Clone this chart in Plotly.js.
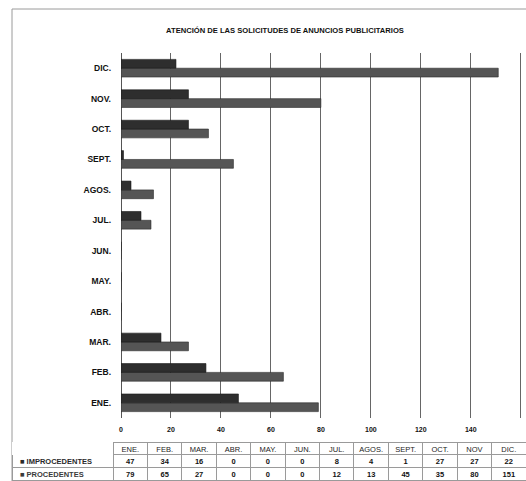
<!DOCTYPE html>
<html>
<head>
<meta charset="utf-8">
<script src="https://cdn.plot.ly/plotly-3.0.1.min.js"></script>
<style>html,body{margin:0;padding:0;background:#fff;}#chart{width:526px;height:481px;}</style>
</head>
<body>
<div id="chart"></div>
<script>
const months = ["ENE.", "FEB.", "MAR.", "ABR.", "MAY.", "JUN.", "JUL.", "AGOS.", "SEPT.", "OCT.", "NOV.", "DIC."];
const tableMonths = ["ENE.", "FEB.", "MAR.", "ABR.", "MAY.", "JUN.", "JUL.", "AGOS.", "SEPT.", "OCT.", "NOV", "DIC."];
const improcedentes = [47, 34, 16, 0, 0, 0, 8, 4, 1, 27, 27, 22];
const procedentes = [79, 65, 27, 0, 0, 0, 12, 13, 45, 35, 80, 151];
const seriesNames = ["IMPROCEDENTES", "PROCEDENTES"];
const xTicks = [0, 20, 40, 60, 80, 100, 120, 140, 160];
const titleText = "ATENCIÓN DE LAS SOLICITUDES DE ANUNCIOS PUBLICITARIOS";

const W = 526, H = 481;
const darkCol = "#2e2e2e", lightCol = "#555555";
const font = "Liberation Sans, Arial, sans-serif";

const traces = [
  {type: "bar", orientation: "h", name: seriesNames[1], y: months, x: procedentes,
   marker: {color: lightCol, line: {color: "#2a2a2a", width: 0.6}}, xaxis: "x", yaxis: "y", hoverinfo: "x"},
  {type: "bar", orientation: "h", name: seriesNames[0], y: months, x: improcedentes,
   marker: {color: darkCol, line: {color: "#1a1a1a", width: 0.6}}, xaxis: "x", yaxis: "y", hoverinfo: "x"}
];

// Data table under the chart: one trace for the grid, one (shifted) for the text
const headerVals = [[""]].concat(tableMonths.map(m => [m]));
const cellVals = [["■\u00a0" + seriesNames[0], "■\u00a0" + seriesNames[1]]]
  .concat(months.map((m, i) => [String(improcedentes[i]), String(procedentes[i])]));
const blankHeader = headerVals.map(() => [""]);
const blankCells = cellVals.map(() => ["", ""]);

const colW = [101].concat(months.map(() => 34.4));
const lineCols = ["#ffffff"].concat(months.map(() => "#9a9a9a"));
const tableTop = 442, textShift = 4;

traces.push({
  type: "table",
  domain: {x: [12 / W, 1], y: [0, (H - tableTop) / H]},
  columnwidth: colW,
  header: {values: blankHeader, height: 12, line: {color: lineCols, width: 1}, fill: {color: "#ffffff"},
           font: {family: font, size: 7.5}},
  cells: {values: blankCells, height: 13, line: {color: "#9a9a9a", width: 1}, fill: {color: "#ffffff"},
          font: {family: font, size: 7.5}}
});
traces.push({
  type: "table",
  domain: {x: [12 / W, 1], y: [0, (H - tableTop + textShift) / H]},
  columnwidth: colW,
  header: {
    values: headerVals, height: 12, align: "center",
    line: {color: "rgba(0,0,0,0)", width: 0}, fill: {color: "rgba(0,0,0,0)"},
    font: {family: font, size: 7.5, color: "#222"}
  },
  cells: {
    values: cellVals, height: 13,
    align: ["left"].concat(months.map(() => "center")),
    line: {color: "rgba(0,0,0,0)", width: 0}, fill: {color: "rgba(0,0,0,0)"},
    font: {family: font, size: 7.5, color: [["#2a2a2a", "#3a3a3a"]].concat(months.map(() => "#111")), weight: "bold"}
  }
});

const layout = {
  width: W, height: H,
  margin: {l: 0, r: 0, t: 0, b: 0},
  paper_bgcolor: "#ffffff", plot_bgcolor: "#ffffff",
  showlegend: false,
  barmode: "group",
  bargap: 0.42,
  bargroupgap: 0,
  font: {family: font, color: "#111"},
  title: {text: "<b>" + titleText + "</b>", font: {family: font, size: 7.6, color: "#111"},
          x: 285 / W, xanchor: "center", y: 1 - 30 / H, yanchor: "middle"},
  xaxis: {
    domain: [121 / W, 522 / W],
    range: [0, 160.5],
    tickvals: xTicks,
    ticktext: xTicks.map(v => "<b>" + v + "</b>"),
    showgrid: true, gridcolor: "#666666", gridwidth: 1,
    zeroline: true, zerolinecolor: "#555", zerolinewidth: 1,
    showline: false,
    ticks: "",
    ticklabelstandoff: 6,
    tickfont: {family: font, size: 7, color: "#111"},
    fixedrange: true
  },
  yaxis: {
    domain: [(H - 418) / H, (H - 53) / H],
    categoryorder: "array", categoryarray: months,
    tickvals: months,
    ticktext: months.map(m => "<b>" + m + "</b>"),
    showgrid: false, zeroline: false, showline: false,
    ticks: "",
    ticklabelstandoff: 9,
    tickfont: {family: font, size: 8.5, color: "#111"},
    fixedrange: true
  },
  shapes: [
    {type: "rect", xref: "paper", yref: "paper",
     x0: 12 / W, x1: 540 / W, y0: -10 / H, y1: 1 - 9 / H,
     line: {color: "#9a9a9a", width: 1}, fillcolor: "rgba(0,0,0,0)", layer: "below"}
  ]
};

Plotly.newPlot("chart", traces, layout, {displayModeBar: false, staticPlot: true});
</script>
</body>
</html>
